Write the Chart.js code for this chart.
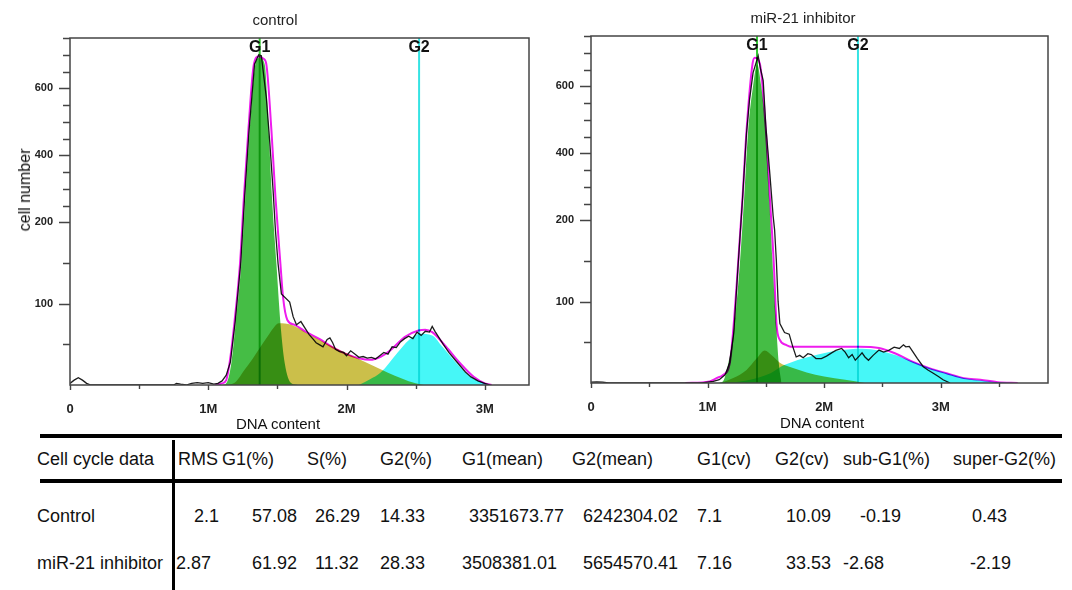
<!DOCTYPE html>
<html>
<head>
<meta charset="utf-8">
<script src="https://cdn.jsdelivr.net/npm/chart.js"></script>
<style>
  body { margin: 0; background: #fff; }
  #page { position: relative; width: 1072px; height: 590px; overflow: hidden;
          font-family: "Liberation Sans", Arial, sans-serif; color: #111; }
  canvas { position: absolute; top: 0; }
  .ttl { position: absolute; font-size: 15px; color: #222; transform: translate(-50%, -50%); white-space: nowrap; }
  .rot { transform: translate(-50%, -50%) rotate(-90deg); font-size: 16px; color: #111; }
  .cell { position: absolute; font-size: 18px; line-height: 20px; white-space: nowrap; }
  .rule { position: absolute; background: #000; }
</style>
</head>
<body>
<div id="page">
  <canvas id="ctrl" width="550" height="432" style="left:0px"></canvas>
  <canvas id="inhib" width="532" height="430" style="left:540px"></canvas>
  <div class="ttl" style="left:275px;top:19px">control</div>
  <div class="ttl" style="left:803px;top:17px">miR-21 inhibitor</div>
  <div class="ttl rot" style="left:25px;top:190px">cell number</div>
  <div class="ttl" style="left:278px;top:423px;color:#111">DNA content</div>
  <div class="ttl" style="left:822px;top:422px;color:#111">DNA content</div>
  <div class="rule" style="left:40px;top:434px;width:1022px;height:4px"></div>
  <div class="rule" style="left:40px;top:479px;width:1022px;height:4px"></div>
  <div class="rule" style="left:172px;top:440px;width:3px;height:150px"></div>
  <div id="table"></div>
</div>
<script>
// DNA content in millions (1 = 1M), cell number

// control
const ctrlRawX = [0, 0.03, 0.06, 0.09, 0.12, 0.15, 0.75, 0.77, 0.80, 0.84, 0.88, 0.92, 0.96, 1.00, 1.04, 1.07,
  1.10, 1.13, 1.16, 1.195, 1.235, 1.263, 1.295, 1.335, 1.365, 1.384, 1.42, 1.444, 1.469, 1.486, 1.505, 1.529,
  1.589, 1.614, 1.638, 1.67, 1.70, 1.73, 1.76, 1.78, 1.80, 1.83, 1.86, 1.88, 1.90, 1.92, 1.95, 1.98, 2.00,
  2.03, 2.06, 2.09, 2.12, 2.15, 2.18, 2.21, 2.24, 2.27, 2.30, 2.33, 2.36, 2.39, 2.42, 2.45, 2.48, 2.51, 2.54,
  2.57, 2.60, 2.62, 2.64, 2.67, 2.70, 2.74, 2.78, 2.82, 2.86, 2.90, 2.95, 3.00, 3.04];
const ctrlRawY = [2, 6, 9, 6, 2, 0, 0, 2, 1, 0, 2, 3, 2, 3, 1, 2,
  5, 12, 28, 78, 150, 275, 474, 672, 700, 697, 573, 444, 295, 190, 149, 112,
  102, 84, 74, 78, 70, 62, 56, 52, 50, 47, 56, 58, 52, 44, 41, 40, 36,
  42, 38, 34, 35, 33, 34, 32, 36, 40, 38, 47, 46, 53, 57, 60, 57, 65, 61,
  66, 65, 72, 66, 58, 50, 40, 32, 24, 16, 10, 5, 2, 0];
const ctrlFitX = [1.05, 1.10, 1.13, 1.155, 1.19, 1.23, 1.258, 1.29, 1.33, 1.365, 1.40, 1.42, 1.457, 1.486,
  1.522, 1.541, 1.572, 1.625, 1.70, 1.80, 1.895, 2.00, 2.09, 2.17, 2.25, 2.32, 2.42, 2.52, 2.57, 2.62, 2.72,
  2.82, 2.92, 3.00, 3.05];
const ctrlFitY = [0, 2, 6, 28, 78, 150, 275, 474, 672, 695, 688, 672, 474, 275,
  149, 108, 80, 74, 66, 57, 47, 38, 33, 31, 35, 43, 59, 67, 68, 65, 47,
  27, 10, 2, 0];
const ctrlG1X = [1.10, 1.13, 1.167, 1.198, 1.239, 1.268, 1.30, 1.341, 1.372, 1.408, 1.437, 1.461, 1.493, 1.522, 1.553, 1.601, 1.65];
const ctrlG1Y = [0, 2, 27, 76, 149, 275, 474, 672, 690, 672, 474, 275, 149, 76, 27, 2, 0];
const ctrlSX = [1.15, 1.20, 1.26, 1.32, 1.37, 1.43, 1.48, 1.51, 1.60, 1.70, 1.80, 1.90, 2.00, 2.10, 2.20, 2.30, 2.40, 2.50, 2.56];
const ctrlSY = [0, 4, 18, 32, 45, 60, 72, 76, 74, 65, 56, 47, 39, 31, 23, 15, 8, 2, 0];
const ctrlG2X = [2.09, 2.17, 2.245, 2.37, 2.45, 2.532, 2.62, 2.694, 2.794, 2.894, 2.994, 3.02];
const ctrlG2Y = [0, 7, 15, 40, 55, 63, 61, 47, 27, 10, 2, 0];
const ctrlGates = [1.372, 2.525];

// miR-21 inhibitor
const invRawX = [0, 0.05, 0.10, 0.15, 0.95, 1.00, 1.05, 1.10, 1.15, 1.19, 1.225, 1.262, 1.30, 1.334, 1.36, 1.39,
  1.434, 1.455, 1.477, 1.50, 1.534, 1.562, 1.575, 1.59, 1.605, 1.62, 1.66, 1.70, 1.73, 1.76, 1.79, 1.82, 1.86,
  1.89, 1.93, 1.976, 2.02, 2.064, 2.10, 2.15, 2.18, 2.21, 2.24, 2.267, 2.30, 2.325, 2.35, 2.38, 2.42, 2.47,
  2.51, 2.558, 2.60, 2.645, 2.68, 2.70, 2.73, 2.76, 2.80, 2.85, 2.89, 2.936, 2.98, 3.02, 3.08];
const invRawY = [1, 1.5, 1, 0, 0, 1, 2, 4, 10, 25, 62, 145, 265, 460, 560, 640,
  691, 650, 617, 480, 339, 214, 188, 150, 100, 73, 62, 60, 45, 32, 34, 31, 36,
  35, 30, 30, 33, 37, 40, 42.5, 38, 31, 35, 28, 33, 37, 32, 28, 34, 40.5,
  38, 40.5, 44, 42.5, 47, 44.5, 45, 38.6, 30, 20, 16, 12, 8, 4, 0];
const invFitX = [0.81, 1.017, 1.077, 1.133, 1.19, 1.22, 1.262, 1.30, 1.334, 1.386, 1.405, 1.448, 1.50, 1.534,
  1.568, 1.591, 1.62, 1.677, 1.715, 2.0, 2.3, 2.47, 2.616, 2.762, 2.907, 3.05, 3.198, 3.34, 3.49, 3.66];
const invFitY = [0, 2, 6, 10, 24, 65, 147, 269, 468, 668, 685, 668, 468, 269,
  147, 73, 53, 46.6, 44.5, 44.5, 44.5, 43, 36, 26, 18, 12, 6, 4, 1, 0];
const invG1X = [1.10, 1.14, 1.177, 1.225, 1.277, 1.314, 1.348, 1.39, 1.425, 1.46, 1.50, 1.528, 1.557, 1.591, 1.611, 1.634];
const invG1Y = [0, 4, 24, 65, 147, 269, 468, 600, 666, 600, 468, 269, 147, 65, 24, 0];
const invSX = [1.10, 1.13, 1.22, 1.334, 1.42, 1.491, 1.55, 1.62, 1.72, 1.85, 2.00, 2.18, 2.35];
const invSY = [0, 1, 6, 16, 30, 40, 34, 25, 19, 13, 8, 4, 0];
const invG2X = [1.05, 1.19, 1.366, 1.54, 1.657, 1.889, 2.122, 2.325, 2.471, 2.616, 2.762, 2.907, 3.052, 3.198, 3.343, 3.49, 3.634];
const invG2Y = [0, 0.5, 4, 12, 22, 33, 40, 42, 40, 34, 26, 18, 12, 6, 3, 1, 0];
const invGates = [1.424, 2.29];

// axes
const gateNames = ['G1', 'G2'];
const xTickVals = [0, 0.5, 1, 1.5, 2, 2.5, 3, 3.5];
const xLabelVals = [0, 1, 2, 3];
const xLabelText = ['0', '1M', '2M', '3M'];
const yTickVals = [50, 100, 150, 200, 250, 300, 350, 400, 450, 500, 550, 600, 650, 700, 750];
const yLabelVals = [100, 200, 400, 600];
const yMax = 750;

// table
const tableHead = ['Cell cycle data', 'RMS', 'G1(%)', 'S(%)', 'G2(%)', 'G1(mean)', 'G2(mean)', 'G1(cv)', 'G2(cv)', 'sub-G1(%)', 'super-G2(%)'];
const controlRow = ['Control', '2.1', '57.08', '26.29', '14.33', '3351673.77', '6242304.02', '7.1', '10.09', '-0.19', '0.43'];
const inhibitorRow = ['miR-21 inhibitor', '2.87', '61.92', '11.32', '28.33', '3508381.01', '5654570.41', '7.16', '33.53', '-2.68', '-2.19'];

const FONT = '"Liberation Sans", Arial, sans-serif';
Chart.defaults.font.family = FONT;

// y axis of the cytometer: linear up to 200, compressed above
const yBreak = 200, yUpper = 0.412;
const squash = v => v <= yBreak ? v : yBreak + (v - yBreak) * yUpper;
const unsquash = s => s <= yBreak ? s : yBreak + (s - yBreak) / yUpper;

const LinearBase = Chart.LinearScale || Chart.registry.getScale('linear');
class PiecewiseScale extends LinearBase {
  getPixelForValue(value) {
    if (value === null || value === undefined || isNaN(value)) return NaN;
    const a = squash(this.min), b = squash(this.max);
    return this.getPixelForDecimal((squash(value) - a) / (b - a));
  }
  getValueForPixel(pixel) {
    const a = squash(this.min), b = squash(this.max);
    return unsquash(a + this.getDecimalForPixel(pixel) * (b - a));
  }
}
PiecewiseScale.id = 'piecewise';
PiecewiseScale.defaults = LinearBase.defaults;
Chart.register(PiecewiseScale);

const pts = (xs, ys) => xs.map((x, i) => ({x: x, y: ys[i]}));

// overlapping fills mix like the cytometry software does
const blendPlugin = {
  id: 'blend',
  beforeDatasetsDraw(chart) { chart.ctx.save(); chart.ctx.globalCompositeOperation = 'multiply'; },
  afterDatasetsDraw(chart) { chart.ctx.restore(); }
};

function makeChart(id, d, o) {
  const framePlugin = {
    id: 'frame',
    afterDraw(chart) {
      const {ctx, chartArea: a, scales: {x, y}} = chart;
      ctx.save();
      ctx.strokeStyle = '#444';
      ctx.lineWidth = 1.5;
      ctx.strokeRect(a.left, a.top, a.right - a.left, a.bottom - a.top);
      ctx.lineWidth = 1.4;
      ctx.beginPath();
      y.ticks.forEach(t => {
        const py = Math.round(y.getPixelForValue(t.value)) + 0.5;
        const len = yLabelVals.includes(t.value) ? 11 : 7;
        ctx.moveTo(a.left - len, py);
        ctx.lineTo(a.left, py);
      });
      x.ticks.forEach(t => {
        const px = Math.round(x.getPixelForValue(t.value)) + 0.5;
        const len = xLabelVals.includes(t.value) ? 5 : 4;
        ctx.moveTo(px, a.bottom);
        ctx.lineTo(px, a.bottom + len);
      });
      ctx.stroke();
      ctx.fillStyle = '#111';
      ctx.font = 'bold 16px ' + FONT;
      ctx.textAlign = 'center';
      ctx.textBaseline = 'middle';
      d.gates.forEach((g, i) => ctx.fillText(gateNames[i], x.getPixelForValue(g), a.top + 10));
      ctx.restore();
    }
  };

  const gateLine = (g, color) => ({
    data: [{x: g, y: 0}, {x: g, y: yMax}], borderColor: color, borderWidth: 2, fill: false
  });
  const area = (xs, ys, color) => ({
    data: pts(xs, ys), backgroundColor: color, borderColor: 'rgba(0,0,0,0)', borderWidth: 0,
    fill: 'origin', cubicInterpolationMode: 'monotone'
  });

  return new Chart(document.getElementById(id), {
    type: 'line',
    data: {
      datasets: [
        {data: pts(d.rawX, d.rawY), borderColor: '#1c1c1c', borderWidth: 1.3, tension: 0, fill: false},
        {data: pts(d.fitX, d.fitY), borderColor: '#ee1cee', borderWidth: 2, cubicInterpolationMode: 'monotone', fill: false},
        gateLine(d.gates[0], '#33c833'),
        gateLine(d.gates[1], '#35e3e3'),
        area(d.g1X, d.g1Y, '#45bd45'),
        area(d.sX, d.sY, '#cbbf4a'),
        area(d.g2X, d.g2Y, '#46f7f7')
      ]
    },
    options: {
      responsive: false,
      animation: false,
      devicePixelRatio: 1,
      events: [],
      layout: {padding: {top: o.padTop, right: o.padRight, left: 0, bottom: 0}},
      elements: {point: {radius: 0}},
      plugins: {legend: {display: false}, tooltip: {enabled: false}},
      scales: {
        x: {
          type: 'linear', min: 0, max: o.xMax,
          afterBuildTicks: ax => { ax.ticks = xTickVals.filter(v => v <= o.xMax).map(v => ({value: v})); },
          afterFit: ax => { ax.height = 47; },
          grid: {display: false, drawTicks: false},
          border: {display: false},
          ticks: {
            autoSkip: false, maxRotation: 0, padding: 17, color: '#222',
            font: {size: 13, weight: 'bold'},
            callback: v => { const i = xLabelVals.indexOf(v); return i >= 0 ? xLabelText[i] : ''; }
          }
        },
        y: {
          type: 'piecewise', min: 0, max: yMax,
          afterBuildTicks: ax => { ax.ticks = yTickVals.map(v => ({value: v})); },
          afterFit: ax => { ax.width = o.yWidth; },
          grid: {display: false, drawTicks: false},
          border: {display: false},
          ticks: {
            autoSkip: false, padding: 17, color: '#222',
            font: {size: 11, weight: 'bold'},
            callback: v => yLabelVals.includes(v) ? String(v) : ''
          }
        }
      }
    },
    plugins: [blendPlugin, framePlugin]
  });
}

makeChart('ctrl', {
  rawX: ctrlRawX, rawY: ctrlRawY, fitX: ctrlFitX, fitY: ctrlFitY,
  g1X: ctrlG1X, g1Y: ctrlG1Y, sX: ctrlSX, sY: ctrlSY, g2X: ctrlG2X, g2Y: ctrlG2Y, gates: ctrlGates
}, {xMax: 3.32, yWidth: 70, padTop: 38, padRight: 21});

makeChart('inhib', {
  rawX: invRawX, rawY: invRawY, fitX: invFitX, fitY: invFitY,
  g1X: invG1X, g1Y: invG1Y, sX: invSX, sY: invSY, g2X: invG2X, g2Y: invG2Y, gates: invGates
}, {xMax: 3.92, yWidth: 51, padTop: 36, padRight: 24});

// table cells
const headLeft = [37, 178, 222, 307, 380, 462, 572, 697, 775, 843, 953];
const controlLeft = [37, 194, 252, 315, 380, 469, 583, 697, 786, 860, 972];
const inhibitorLeft = [37, 176, 252, 315, 380, 462, 583, 697, 786, 843, 970];
const table = document.getElementById('table');
function addRow(cells, lefts, centerY) {
  cells.forEach((txt, i) => {
    const el = document.createElement('div');
    el.className = 'cell';
    el.textContent = txt;
    el.style.left = lefts[i] + 'px';
    el.style.top = (centerY - 10) + 'px';
    table.appendChild(el);
  });
}
addRow(tableHead, headLeft, 459);
addRow(controlRow, controlLeft, 516);
addRow(inhibitorRow, inhibitorLeft, 563);
</script>
</body>
</html>
